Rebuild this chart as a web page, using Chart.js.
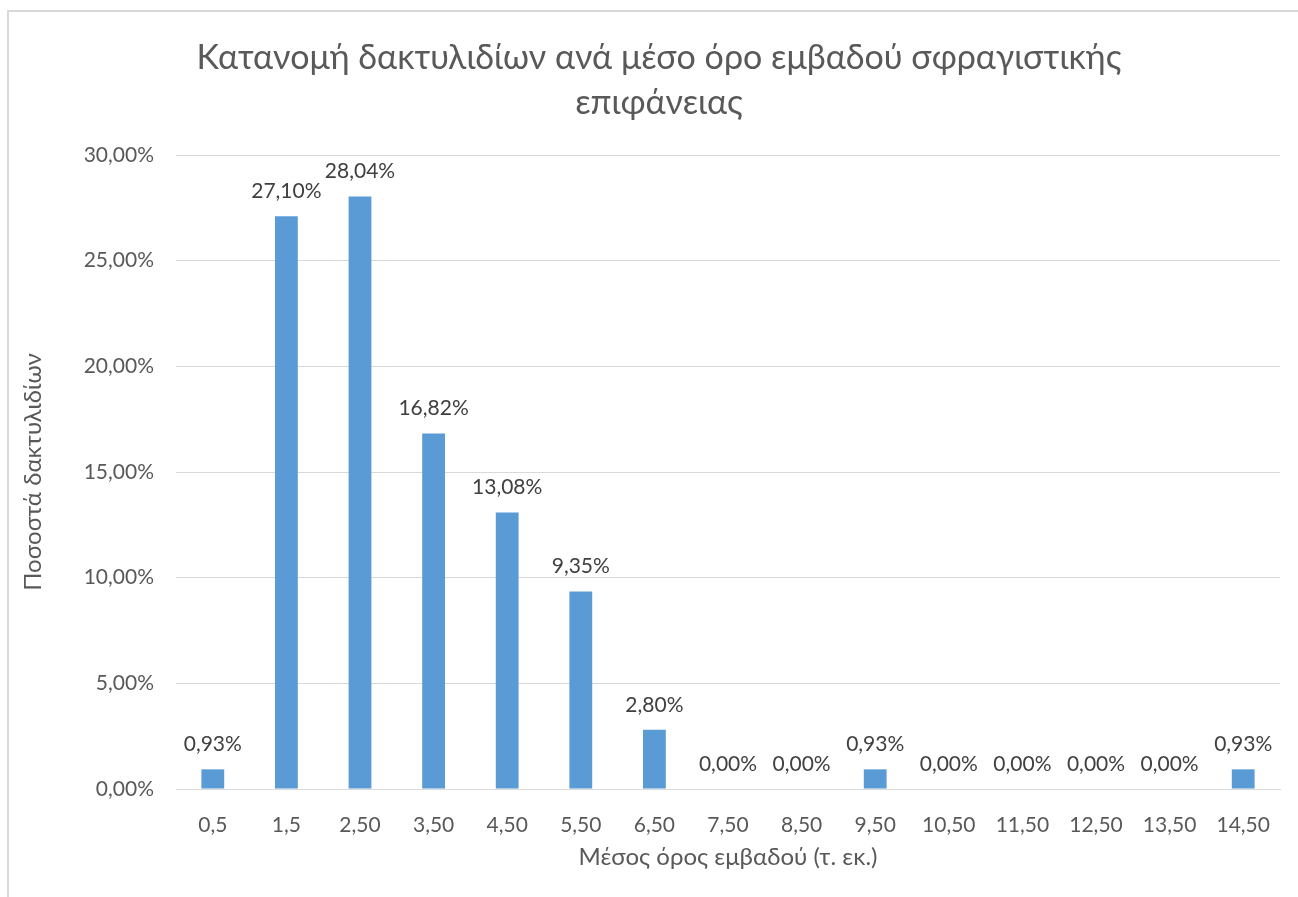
<!DOCTYPE html>
<html>
<head>
<meta charset="utf-8">
<script src="https://cdn.jsdelivr.net/npm/chart.js@4"></script>
<style>
  html, body { margin: 0; padding: 0; background: #fff; overflow: hidden; }
  #frame { position: absolute; left: 7px; top: 10px; width: 1300px; height: 900px; border: 2px solid #d9d9d9; box-sizing: border-box; }
  #wrap { position: absolute; left: 0; top: 0; width: 1298px; height: 897px; }
</style>
</head>
<body>
<div id="frame"></div>
<div id="wrap"><canvas id="chart" width="1298" height="897"></canvas></div>
<script>
const categories = ['0,5', '1,5', '2,50', '3,50', '4,50', '5,50', '6,50', '7,50', '8,50', '9,50', '10,50', '11,50', '12,50', '13,50', '14,50'];
const percentages = [0.93, 27.10, 28.04, 16.82, 13.08, 9.35, 2.80, 0, 0, 0.93, 0, 0, 0, 0, 0.93];
const yTicks = [0, 5, 10, 15, 20, 25, 30];

const fmt = v => v.toFixed(2).replace('.', ',') + '%';
const FONT = 'Lato, "Open Sans", sans-serif';

// simple value labels above each bar
const barLabels = {
  id: 'barLabels',
  afterDatasetsDraw(chart) {
    const ctx = chart.ctx;
    const meta = chart.getDatasetMeta(0);
    ctx.save();
    ctx.font = '21px ' + FONT;
    ctx.fillStyle = '#404040';
    ctx.textAlign = 'center';
    ctx.textBaseline = 'middle';
    meta.data.forEach((bar, i) => {
      ctx.fillText(fmt(percentages[i]), bar.x, bar.y - 25);
    });
    ctx.restore();
  }
};

new Chart(document.getElementById('chart'), {
  type: 'bar',
  data: {
    labels: categories,
    datasets: [{
      data: percentages,
      backgroundColor: '#5B9BD5',
      barPercentage: 0.31,
      categoryPercentage: 1
    }]
  },
  options: {
    responsive: false,
    animation: false,
    // left padding wider so the title centres like the original; y title pulled back with negative padding
    layout: { padding: { left: 38, right: 18, top: 0, bottom: 10 } },
    plugins: {
      legend: { display: false },
      tooltip: { enabled: false },
      title: {
        display: true,
        text: ['Κατανομή δακτυλιδίων ανά μέσο όρο εμβαδού σφραγιστικής', 'επιφάνειας'],
        color: '#595959',
        font: { family: FONT, size: 34, weight: 'normal', lineHeight: '45px' },
        padding: { top: 36, bottom: 29 }
      }
    },
    scales: {
      x: {
        grid: { display: false },
        border: { color: '#d9d9d9', width: 1 },
        ticks: { color: '#595959', font: { family: FONT, size: 21 }, padding: 16, maxRotation: 0 },
        title: {
          display: true,
          text: 'Μέσος όρος εμβαδού (τ. εκ.)',
          color: '#595959',
          font: { family: FONT, size: 24 },
          padding: { top: 0, bottom: 15 }
        },
        afterFit(scale) { scale.height = 98; }
      },
      y: {
        min: 0,
        max: 30,
        afterBuildTicks(scale) { scale.ticks = yTicks.map(v => ({ value: v })); },
        grid: { color: '#d9d9d9', lineWidth: 1, drawTicks: false },
        border: { display: false },
        ticks: { color: '#595959', font: { family: FONT, size: 21 }, padding: 22, callback: v => fmt(v) },
        title: {
          display: true,
          text: 'Ποσοστά δακτυλιδίων',
          color: '#595959',
          font: { family: FONT, size: 24 },
          padding: { top: -19, bottom: 0 }
        },
        afterFit(scale) { scale.width = 138; }
      }
    }
  },
  plugins: [barLabels]
});
</script>
</body>
</html>
